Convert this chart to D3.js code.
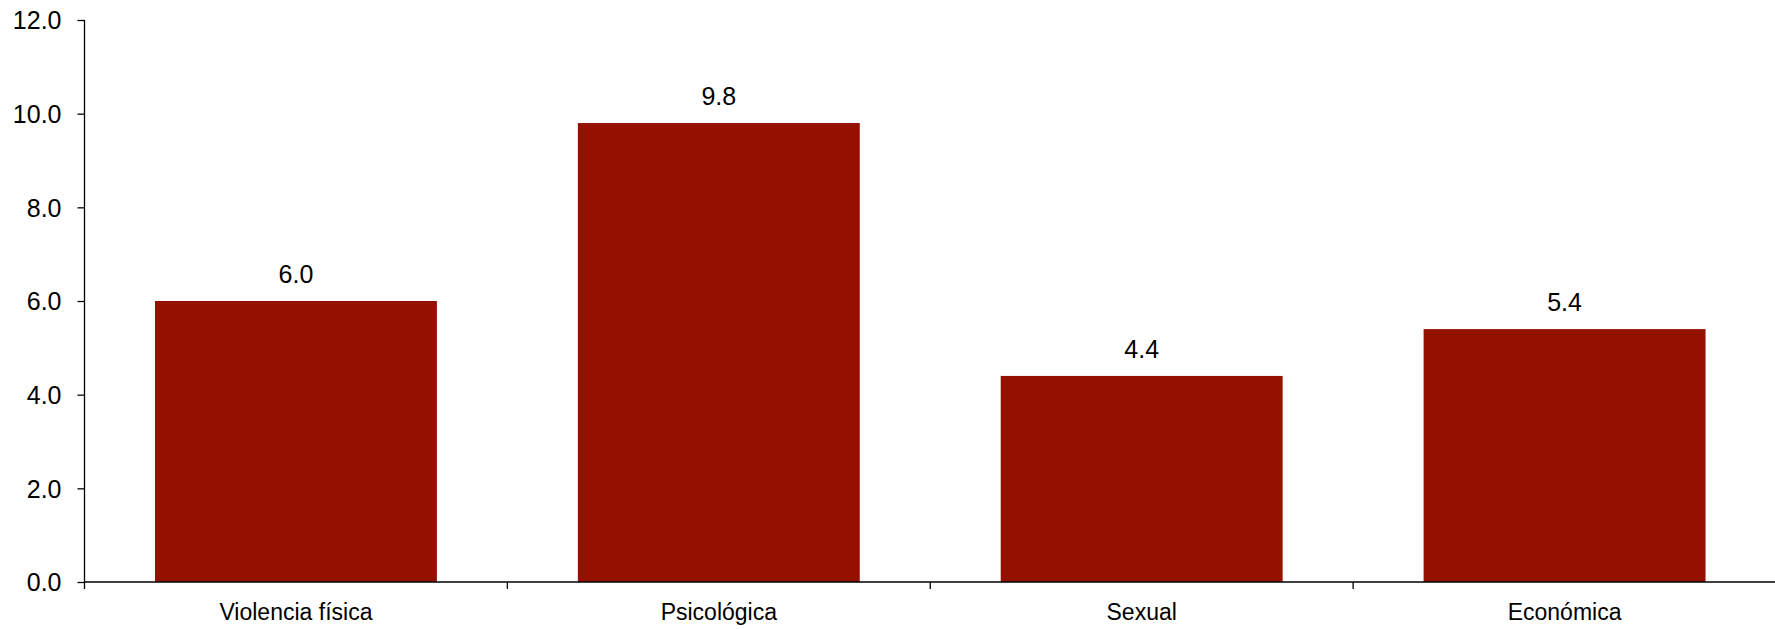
<!DOCTYPE html>
<html><head><meta charset="utf-8">
<script src="https://cdn.jsdelivr.net/npm/d3@7"></script>
<style>body{margin:0;background:#fff}svg{display:block}text{font-family:"Liberation Sans",Arial,sans-serif;fill:#000}</style>
</head><body><svg id="c" width="1775" height="629"></svg>
<script>
const categories = ["Violencia física", "Psicológica", "Sexual", "Económica"];
const values = [6.0, 9.8, 4.4, 5.4];
const yTicks = [0, 2, 4, 6, 8, 10, 12];

const svg = d3.select("#c");
const m = {left: 84.5, right: 1776, top: 20, bottom: 582};
const x = d3.scaleBand().domain(categories).range([m.left, m.right]).paddingInner(1/3).paddingOuter(1/6);
const xb = d3.scaleBand().domain(categories).range([m.left, m.right]);
const y = d3.scaleLinear().domain([0, 12]).range([m.bottom, m.top]);

svg.selectAll("rect.bar").data(values).join("rect")
  .attr("x", (d,i) => x(categories[i])).attr("width", x.bandwidth())
  .attr("y", d => y(d)).attr("height", d => y(0) - y(d))
  .attr("fill", "#941100");

svg.selectAll("text.val").data(values).join("text")
  .attr("x", (d,i) => x(categories[i]) + x.bandwidth()/2)
  .attr("y", d => y(d) - 18)
  .attr("text-anchor", "middle").attr("font-size", 25)
  .text(d => d.toFixed(1));

const ya = svg.append("g").attr("transform", `translate(${m.left},0)`)
  .call(d3.axisLeft(y).tickValues(yTicks).tickSize(7).tickPadding(16).tickFormat(d3.format(".1f")));
ya.select(".domain").attr("d", `M0,${m.top}V${m.bottom}`).attr("stroke", "#000").attr("stroke-width", 1.3);
ya.selectAll(".tick line").attr("stroke", "#000").attr("stroke-width", 1.3);
ya.selectAll(".tick text").attr("font-size", 25).attr("font-family", '"Liberation Sans",Arial,sans-serif').attr("fill", "#000").attr("dy", "0.35em");

const xa = svg.append("g").attr("transform", `translate(0,${m.bottom})`);
xa.append("line").attr("x1", m.left).attr("x2", m.right).attr("stroke", "#000").attr("stroke-width", 1.3);
const bounds = categories.map(c => xb(c));
xa.selectAll("line.t").data(bounds).join("line").attr("class","t")
  .attr("x1", d => d).attr("x2", d => d).attr("y1", 0).attr("y2", 7).attr("stroke", "#000").attr("stroke-width", 1.3);
xa.selectAll("text.cat").data(categories).join("text")
  .attr("x", d => xb(d) + xb.bandwidth()/2).attr("y", 38)
  .attr("text-anchor", "middle").attr("font-size", 23).text(d => d);
</script></body></html>
